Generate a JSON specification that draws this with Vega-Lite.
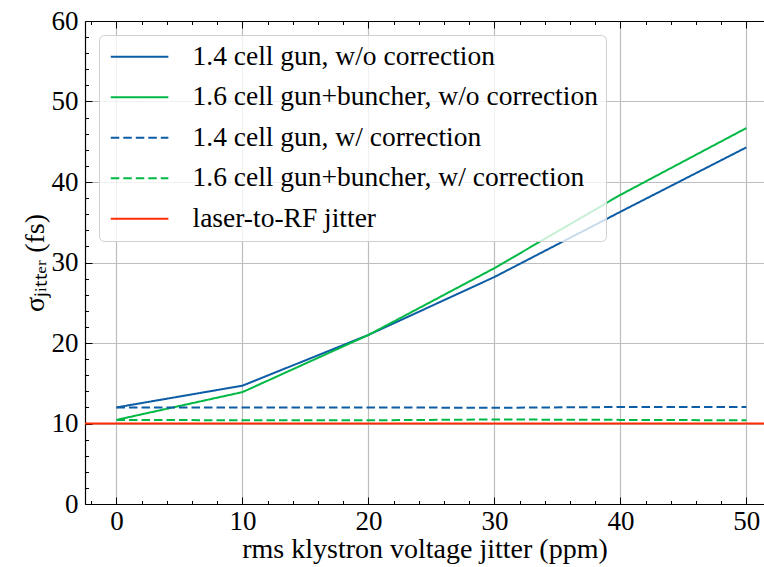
{
  "$schema": "https://vega.github.io/schema/vega-lite/v6.json",
  "width": 679,
  "height": 483,
  "autosize": {"type": "none"},
  "padding": {"left": 85, "top": 21, "right": 0, "bottom": 63},
  "background": "white",
  "config": {
    "view": {"stroke": null},
    "font": "Liberation Serif",
    "axis": {
      "domainColor": "black",
      "domainWidth": 1.2,
      "tickColor": "black",
      "tickWidth": 1,
      "gridColor": "#bdbdbd",
      "gridWidth": 1.2,
      "labelFont": "Liberation Serif",
      "labelFontSize": 27,
      "labelColor": "black",
      "labelFlush": false,
      "labelOverlap": false,
      "labelBound": false,
      "titleFont": "Liberation Serif",
      "titleFontWeight": "normal",
      "titleColor": "black"
    }
  },
  "datasets": {
    "lines": [
      {"series": "1.4 cell gun, w/o correction", "x": 0, "y": 12.0},
      {"series": "1.4 cell gun, w/o correction", "x": 10, "y": 14.7},
      {"series": "1.4 cell gun, w/o correction", "x": 20, "y": 21.0},
      {"series": "1.4 cell gun, w/o correction", "x": 30, "y": 28.2},
      {"series": "1.4 cell gun, w/o correction", "x": 40, "y": 36.3},
      {"series": "1.4 cell gun, w/o correction", "x": 50, "y": 44.3},
      {"series": "1.6 cell gun+buncher, w/o correction", "x": 0, "y": 10.45},
      {"series": "1.6 cell gun+buncher, w/o correction", "x": 10, "y": 13.9},
      {"series": "1.6 cell gun+buncher, w/o correction", "x": 20, "y": 21.0},
      {"series": "1.6 cell gun+buncher, w/o correction", "x": 30, "y": 29.3},
      {"series": "1.6 cell gun+buncher, w/o correction", "x": 40, "y": 38.4},
      {"series": "1.6 cell gun+buncher, w/o correction", "x": 50, "y": 46.7},
      {"series": "1.4 cell gun, w/ correction", "x": 0, "y": 12.0},
      {"series": "1.4 cell gun, w/ correction", "x": 10, "y": 11.98},
      {"series": "1.4 cell gun, w/ correction", "x": 20, "y": 12.0},
      {"series": "1.4 cell gun, w/ correction", "x": 30, "y": 11.95},
      {"series": "1.4 cell gun, w/ correction", "x": 40, "y": 12.05},
      {"series": "1.4 cell gun, w/ correction", "x": 50, "y": 12.05},
      {"series": "1.6 cell gun+buncher, w/ correction", "x": 0, "y": 10.45},
      {"series": "1.6 cell gun+buncher, w/ correction", "x": 10, "y": 10.4},
      {"series": "1.6 cell gun+buncher, w/ correction", "x": 20, "y": 10.4},
      {"series": "1.6 cell gun+buncher, w/ correction", "x": 30, "y": 10.5},
      {"series": "1.6 cell gun+buncher, w/ correction", "x": 40, "y": 10.45},
      {"series": "1.6 cell gun+buncher, w/ correction", "x": 50, "y": 10.4}
    ],
    "hline": [
      {"series": "laser-to-RF jitter", "x": 0, "y": 10}
    ]
  },
  "encoding": {
    "y": {
      "field": "y",
      "type": "quantitative",
      "scale": {"domain": [0, 60], "nice": false, "zero": false},
      "axis": {
        "title": "σⱼᵢₜₜₑᵣ (fs)",
        "titleFontSize": 28,
        "titleAngle": -90,
        "titleAlign": "center",
        "titleBaseline": "middle",
        "titleX": -50,
        "titleY": 241.5,
        "values": [0, 2, 4, 6, 8, 10, 12, 14, 16, 18, 20, 22, 24, 26, 28, 30, 32, 34, 36, 38, 40, 42, 44, 46, 48, 50, 52, 54, 56, 58, 60],
        "labelExpr": "datum.value % 10 === 0 ? datum.label : ''",
        "tickSize": {"condition": {"test": "datum.value % 10 === 0", "value": -7}, "value": -3.5},
        "gridOpacity": {"condition": {"test": "datum.value % 10 === 0", "value": 1}, "value": 0},
        "labelPadding": 14,
        "labelBaseline": "middle"
      }
    }
  },
  "layer": [
    {
      "data": {"name": "lines"},
      "mark": {"type": "line", "strokeWidth": 2},
      "encoding": {
        "x": {
          "field": "x",
          "type": "quantitative",
          "scale": {"domain": [-2.5, 51.4], "nice": false, "zero": false},
          "axis": {
            "orient": "bottom",
            "title": "rms klystron voltage jitter (ppm)",
            "titleFontSize": 28,
            "titleBaseline": "alphabetic",
            "titleY": 53.5,
            "titleX": 339.5,
            "values": [-2, 0, 2, 4, 6, 8, 10, 12, 14, 16, 18, 20, 22, 24, 26, 28, 30, 32, 34, 36, 38, 40, 42, 44, 46, 48, 50],
            "labelExpr": "datum.value % 10 === 0 ? datum.label : ''",
            "tickSize": {"condition": {"test": "datum.value % 10 === 0", "value": -7}, "value": -3.5},
            "gridOpacity": {"condition": {"test": "datum.value % 10 === 0", "value": 1}, "value": 0},
            "labelBaseline": "alphabetic",
            "labelPadding": 32
          }
        },
        "color": {
          "field": "series",
          "type": "nominal",
          "scale": {
            "domain": ["1.4 cell gun, w/o correction", "1.6 cell gun+buncher, w/o correction", "1.4 cell gun, w/ correction", "1.6 cell gun+buncher, w/ correction", "laser-to-RF jitter"],
            "range": ["#0C5DA5", "#00B945", "#0C5DA5", "#00B945", "#FF2C00"]
          },
          "legend": {
            "title": null,
            "orient": "none",
            "legendX": 14,
            "legendY": 14,
            "fillColor": "white",
            "strokeColor": "#d0d0d0",
            "cornerRadius": 5,
            "padding": 8,
            "rowPadding": 11.5,
            "labelFont": "Liberation Serif",
            "labelFontSize": 27.5,
            "labelColor": "black",
            "labelLimit": 0,
            "labelOffset": 58,
            "symbolType": "M-0.83,0H3.97",
            "symbolSize": 576,
            "symbolStrokeWidth": 2,
            "encode": {"legend": {"update": {"fillOpacity": {"value": 0.78}}}}
          }
        },
        "strokeDash": {
          "field": "series",
          "type": "nominal",
          "scale": {
            "domain": ["1.4 cell gun, w/o correction", "1.6 cell gun+buncher, w/o correction", "1.4 cell gun, w/ correction", "1.6 cell gun+buncher, w/ correction", "laser-to-RF jitter"],
            "range": [[1, 0], [1, 0], [8.5, 4], [8.5, 4], [1, 0]]
          },
          "legend": {"title": null}
        }
      }
    },
    {
      "data": {"name": "hline"},
      "mark": {"type": "rule", "strokeWidth": 2},
      "encoding": {
        "color": {"field": "series", "type": "nominal"},
        "strokeDash": {"field": "series", "type": "nominal"}
      }
    },
    {
      "data": {"name": "hline"},
      "mark": {"type": "point", "opacity": 0},
      "encoding": {
        "x": {
          "field": "x",
          "type": "quantitative",
          "axis": {
            "orient": "top",
            "title": null,
            "labels": false,
            "grid": false,
            "values": [-2, 0, 2, 4, 6, 8, 10, 12, 14, 16, 18, 20, 22, 24, 26, 28, 30, 32, 34, 36, 38, 40, 42, 44, 46, 48, 50],
            "tickSize": {"condition": {"test": "datum.value % 10 === 0", "value": -7}, "value": -3.5}
          }
        }
      }
    }
  ],
  "resolve": {"axis": {"x": "independent"}}
}
